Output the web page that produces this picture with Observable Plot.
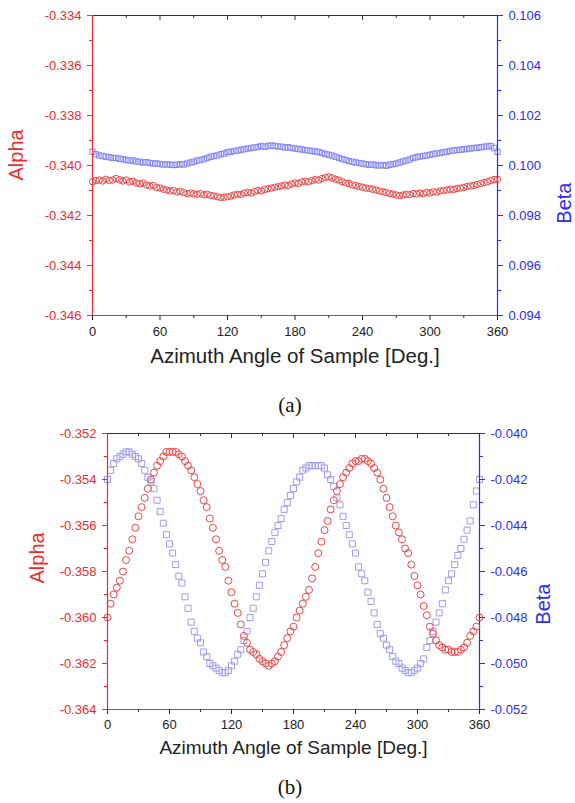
<!DOCTYPE html>
<html><head><meta charset="utf-8">
<script src="https://cdn.jsdelivr.net/npm/d3@7"></script>
<script src="https://cdn.jsdelivr.net/npm/@observablehq/plot@0.6"></script>
<style>
body{margin:0;background:#fff;}
#root{position:relative;width:575px;height:803px;overflow:hidden;font-family:Arial,"Liberation Sans",sans-serif;}
.layer{position:absolute;left:0;}
.cap{position:absolute;font-family:"Times New Roman","Liberation Serif",serif;font-size:21px;width:60px;text-align:center;left:260px;line-height:24px;color:#111;}
</style></head><body><div id="root"></div>
<script>
// Azimuth angles of the samples (deg)
const angles = d3.range(0, 361, 3);
const xTicks = [0, 60, 120, 180, 240, 300, 360];
const xMinor = [30, 90, 150, 210, 270, 330];

// Panel (a)
const alphaA = [
-0.34065,-0.34060,-0.34058,-0.34062,-0.34055,-0.34060,-0.34058,-0.34052,-0.34057,-0.34062,
-0.34058,-0.34066,-0.34063,-0.34070,-0.34073,-0.34070,-0.34078,-0.34082,-0.34080,-0.34088,
-0.34090,-0.34095,-0.34098,-0.34102,-0.34100,-0.34106,-0.34104,-0.34108,-0.34112,-0.34110,
-0.34113,-0.34115,-0.34112,-0.34117,-0.34115,-0.34120,-0.34122,-0.34125,-0.34128,-0.34127,
-0.34125,-0.34122,-0.34118,-0.34115,-0.34116,-0.34110,-0.34108,-0.34110,-0.34104,-0.34100,
-0.34102,-0.34096,-0.34093,-0.34090,-0.34087,-0.34085,-0.34082,-0.34078,-0.34080,-0.34074,
-0.34070,-0.34072,-0.34066,-0.34063,-0.34065,-0.34060,-0.34056,-0.34058,-0.34052,-0.34048,
-0.34045,-0.34050,-0.34055,-0.34058,-0.34065,-0.34070,-0.34072,-0.34078,-0.34080,-0.34084,
-0.34087,-0.34090,-0.34092,-0.34095,-0.34098,-0.34102,-0.34105,-0.34108,-0.34112,-0.34114,
-0.34118,-0.34120,-0.34118,-0.34115,-0.34117,-0.34112,-0.34114,-0.34110,-0.34112,-0.34108,
-0.34110,-0.34105,-0.34107,-0.34102,-0.34100,-0.34098,-0.34095,-0.34096,-0.34092,-0.34090,
-0.34088,-0.34084,-0.34082,-0.34080,-0.34076,-0.34072,-0.34068,-0.34065,-0.34060,-0.34056,
-0.34055];
const betaA = [
0.10055,0.10045,0.10040,0.10038,0.10035,0.10033,0.10030,0.10030,0.10027,0.10025,
0.10022,0.10020,0.10020,0.10016,0.10015,0.10012,0.10013,0.10010,0.10008,0.10008,
0.10006,0.10004,0.10005,0.10003,0.10002,0.10003,0.10005,0.10004,0.10008,0.10012,
0.10015,0.10020,0.10022,0.10025,0.10030,0.10035,0.10038,0.10040,0.10045,0.10048,
0.10053,0.10055,0.10058,0.10060,0.10063,0.10065,0.10068,0.10070,0.10072,0.10074,
0.10078,0.10075,0.10078,0.10080,0.10078,0.10076,0.10075,0.10072,0.10073,0.10070,
0.10068,0.10066,0.10064,0.10062,0.10060,0.10058,0.10056,0.10054,0.10050,0.10046,
0.10043,0.10040,0.10035,0.10030,0.10026,0.10022,0.10018,0.10015,0.10012,0.10010,
0.10008,0.10005,0.10003,0.10004,0.10001,0.10000,0.10002,0.09999,0.10003,0.10005,
0.10008,0.10012,0.10016,0.10020,0.10024,0.10030,0.10033,0.10036,0.10038,0.10040,
0.10043,0.10046,0.10048,0.10050,0.10053,0.10055,0.10058,0.10060,0.10062,0.10063,
0.10065,0.10066,0.10068,0.10070,0.10071,0.10073,0.10075,0.10076,0.10078,0.10070,
0.10055];
const alphaTicksA = [-0.346, -0.344, -0.342, -0.340, -0.338, -0.336, -0.334];
const alphaMinorA = [-0.345, -0.343, -0.341, -0.339, -0.337, -0.335];
const betaTicksA = [0.094, 0.096, 0.098, 0.100, 0.102, 0.104, 0.106];
const betaMinorA = [0.095, 0.097, 0.099, 0.101, 0.103, 0.105];

// Panel (b)
const alphaB = [
-0.3600,-0.3594,-0.3590,-0.3587,-0.3584,-0.3580,-0.3575,-0.3571,-0.3566,-0.3561,
-0.3556,-0.3552,-0.3548,-0.3544,-0.3540,-0.3537,-0.3534,-0.3532,-0.3530,-0.3528,
-0.3528,-0.3528,-0.3528,-0.3529,-0.3530,-0.3532,-0.3534,-0.3536,-0.3539,-0.3542,
-0.3545,-0.3549,-0.3552,-0.3557,-0.3561,-0.3566,-0.3571,-0.3575,-0.3578,-0.3584,
-0.3589,-0.3594,-0.3598,-0.3603,-0.3608,-0.3611,-0.3614,-0.3615,-0.3616,-0.3618,
-0.3619,-0.3620,-0.3621,-0.3620,-0.3619,-0.3617,-0.3615,-0.3612,-0.3609,-0.3606,
-0.3604,-0.3600,-0.3597,-0.3594,-0.3591,-0.3588,-0.3583,-0.3578,-0.3572,-0.3567,
-0.3562,-0.3558,-0.3553,-0.3549,-0.3545,-0.3542,-0.3539,-0.3537,-0.3535,-0.3533,
-0.3532,-0.3532,-0.3531,-0.3531,-0.3532,-0.3533,-0.3535,-0.3537,-0.3540,-0.3544,
-0.3548,-0.3552,-0.3556,-0.3560,-0.3563,-0.3566,-0.3570,-0.3572,-0.3577,-0.3582,
-0.3586,-0.3590,-0.3595,-0.3599,-0.3604,-0.3607,-0.3610,-0.3612,-0.3613,-0.3614,
-0.3614,-0.3615,-0.3615,-0.3615,-0.3614,-0.3613,-0.3611,-0.3608,-0.3606,-0.3604,
-0.3600];
const betaB = [
-0.0420,-0.0416,-0.0413,-0.0411,-0.0410,-0.0409,-0.0408,-0.0408,-0.0409,-0.0410,
-0.0411,-0.0413,-0.0416,-0.0419,-0.0421,-0.0424,-0.0429,-0.0434,-0.0439,-0.0444,
-0.0448,-0.0452,-0.0457,-0.0462,-0.0465,-0.0471,-0.0476,-0.0482,-0.0486,-0.0489,
-0.0491,-0.0495,-0.0497,-0.0500,-0.0501,-0.0502,-0.0503,-0.0504,-0.0504,-0.0503,
-0.0501,-0.0499,-0.0496,-0.0494,-0.0490,-0.0486,-0.0480,-0.0476,-0.0471,-0.0466,
-0.0461,-0.0456,-0.0451,-0.0447,-0.0443,-0.0440,-0.0437,-0.0433,-0.0430,-0.0427,
-0.0424,-0.0421,-0.0419,-0.0416,-0.0415,-0.0414,-0.0414,-0.0414,-0.0414,-0.0414,
-0.0415,-0.0418,-0.0420,-0.0423,-0.0428,-0.0431,-0.0436,-0.0440,-0.0444,-0.0448,
-0.0452,-0.0458,-0.0461,-0.0464,-0.0469,-0.0473,-0.0478,-0.0483,-0.0487,-0.0489,
-0.0492,-0.0494,-0.0497,-0.0499,-0.0500,-0.0502,-0.0503,-0.0504,-0.0504,-0.0503,
-0.0502,-0.0500,-0.0498,-0.0493,-0.0490,-0.0486,-0.0482,-0.0478,-0.0474,-0.0468,
-0.0464,-0.0461,-0.0457,-0.0453,-0.0450,-0.0446,-0.0442,-0.0438,-0.0431,-0.0425,
-0.0420];
const alphaTicksB = [-0.364, -0.362, -0.360, -0.358, -0.356, -0.354, -0.352];
const alphaMinorB = [-0.363, -0.361, -0.359, -0.357, -0.355, -0.353];
const betaTicksB = [-0.052, -0.050, -0.048, -0.046, -0.044, -0.042, -0.040];
const betaMinorB = [-0.051, -0.049, -0.047, -0.045, -0.043, -0.041];

const xLabel = "Azimuth Angle of Sample [Deg.]";
const RED = "#f02b2b", BLUE = "#2d2df2";
const FONT = 'Arial, "Liberation Sans", sans-serif';
const root = document.getElementById("root");

function panel(o) {
  const innerH = o.height - o.mt - o.mb;
  const common = {
    width: 575, height: o.height,
    marginTop: o.mt, marginBottom: o.mb, marginLeft: o.ml, marginRight: o.mr,
    style: {background: "transparent", fontFamily: FONT, overflow: "visible"}
  };
  const da = angles.map((a, i) => ({angle: a, v: o.alpha[i]}));
  const db = angles.map((a, i) => ({angle: a, v: o.beta[i]}));
  const yA = d3.extent(o.aTicks), yB = d3.extent(o.bTicks);

  const svgB = Plot.plot({
    ...common,
    x: {domain: [0, 360], axis: null},
    y: {domain: yB, axis: null},
    marks: [
      Plot.dot(db, {x: "angle", y: "v", symbol: "square", r: o.sr, stroke: o.blueDot, strokeWidth: 1, fill: "none"}),
      Plot.ruleX([360], {stroke: BLUE, strokeWidth: 1.2}),
      Plot.axisY({anchor: "right", ticks: o.bTicks, tickSize: 5, tickPadding: o.rpad, tickFormat: d => d.toFixed(3), color: BLUE, fontSize: o.fs, label: null}),
      Plot.axisY({anchor: "right", ticks: o.bMinor, tickSize: 3, text: null, color: BLUE, label: null}),
      Plot.text(["Beta"], {text: d => d, frameAnchor: "right", dx: o.betaDx, dy: o.betaDy, rotate: -90, fontSize: o.lfs, fill: BLUE})
    ]
  });
  const svgA = Plot.plot({
    ...common,
    x: {domain: [0, 360]},
    y: {domain: yA},
    marks: [
      Plot.dot(da, {x: "angle", y: "v", r: o.cr, stroke: o.redDot, strokeWidth: 1, fill: "none"}),
      Plot.ruleY([yA[1]], {stroke: "#333", strokeWidth: 1.2}),
      Plot.tickX(xTicks, {x: d => d, stroke: "#333", insetBottom: innerH - 5}),
      Plot.tickX(xMinor, {x: d => d, stroke: "#333", insetBottom: innerH - 3}),
      Plot.ruleY([yA[0]], {stroke: "#666", strokeWidth: 1.2}),
      Plot.axisX({anchor: "bottom", ticks: xTicks, tickSize: 5, tickPadding: o.xpad, tickFormat: d => String(d), color: "#222", fontSize: o.fs, label: null}),
      Plot.axisX({anchor: "bottom", ticks: xMinor, tickSize: 3, text: null, color: "#333", label: null}),
      Plot.ruleX([0], {stroke: RED, strokeWidth: 1.2}),
      Plot.axisY({anchor: "left", ticks: o.aTicks, tickSize: 5, tickPadding: 6, tickFormat: d => d.toFixed(3), color: RED, fontSize: o.fs, label: null}),
      Plot.axisY({anchor: "left", ticks: o.aMinor, tickSize: 3, text: null, color: RED, label: null}),
      Plot.text([xLabel], {text: d => d, frameAnchor: "bottom", dy: o.titleDy, fontSize: o.tfs, fill: "#222"}),
      Plot.text(["Alpha"], {text: d => d, frameAnchor: "left", dx: o.alphaDx, dy: o.alphaDy, rotate: -90, fontSize: o.lfs, fill: RED})
    ]
  });
  for (const s of [svgB, svgA]) {
    s.classList.add("layer");
    s.style.top = o.top + "px";
    root.appendChild(s);
  }
  const cap = document.createElement("div");
  cap.className = "cap";
  cap.textContent = o.caption;
  cap.style.top = (o.capY - 12) + "px";
  root.appendChild(cap);
}

panel({top: 0, height: 380, mt: 15, mb: 65, ml: 92, mr: 78,
  alpha: alphaA, beta: betaA, aTicks: alphaTicksA, aMinor: alphaMinorA, bTicks: betaTicksA, bMinor: betaMinorA,
  cr: 3.2, sr: 3.0, redDot: "#ee4545", blueDot: "#8282f2",
  fs: 13, tfs: 20.5, lfs: 20, xpad: 6, rpad: 6, titleDy: 47,
  alphaDx: -76, alphaDy: 15, betaDx: 67, betaDy: 17, caption: "(a)", capY: 405});

panel({top: 420, height: 380, mt: 13, mb: 91, ml: 107, mr: 96,
  alpha: alphaB, beta: betaB, aTicks: alphaTicksB, aMinor: alphaMinorB, bTicks: betaTicksB, bMinor: betaMinorB,
  cr: 3.5, sr: 3.4, redDot: "#ee4545", blueDot: "#9c9cf0",
  fs: 13, tfs: 19, lfs: 20, xpad: 5, rpad: 6, titleDy: 44,
  alphaDx: -70, alphaDy: 12, betaDx: 64, betaDy: 12, caption: "(b)", capY: 787});
</script></body></html>
